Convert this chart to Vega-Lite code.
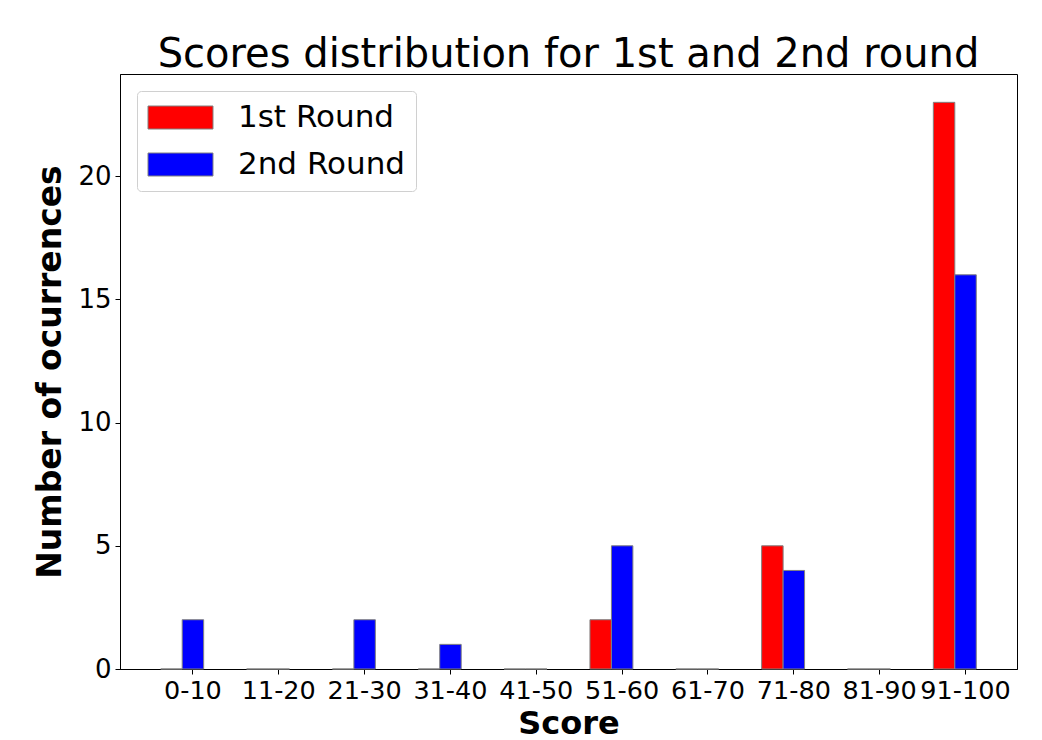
{
  "$schema": "https://vega.github.io/schema/vega-lite/v6.json",
  "autosize": {"type": "none"},
  "padding": {"left": 120, "top": 74, "right": 25, "bottom": 71},
  "width": 897,
  "height": 595,
  "background": "white",
  "title": {
    "text": "Scores distribution for 1st and 2nd round",
    "font": "DejaVu Sans",
    "fontSize": 40,
    "fontWeight": "normal",
    "color": "black",
    "anchor": "middle",
    "baseline": "alphabetic",
    "offset": 8,
    "dy": 41
  },
  "data": {
    "values": [
      {"score": "0-10", "round": "1st Round", "count": 0},
      {"score": "0-10", "round": "2nd Round", "count": 2},
      {"score": "11-20", "round": "1st Round", "count": 0},
      {"score": "11-20", "round": "2nd Round", "count": 0},
      {"score": "21-30", "round": "1st Round", "count": 0},
      {"score": "21-30", "round": "2nd Round", "count": 2},
      {"score": "31-40", "round": "1st Round", "count": 0},
      {"score": "31-40", "round": "2nd Round", "count": 1},
      {"score": "41-50", "round": "1st Round", "count": 0},
      {"score": "41-50", "round": "2nd Round", "count": 0},
      {"score": "51-60", "round": "1st Round", "count": 2},
      {"score": "51-60", "round": "2nd Round", "count": 5},
      {"score": "61-70", "round": "1st Round", "count": 0},
      {"score": "61-70", "round": "2nd Round", "count": 0},
      {"score": "71-80", "round": "1st Round", "count": 5},
      {"score": "71-80", "round": "2nd Round", "count": 4},
      {"score": "81-90", "round": "1st Round", "count": 0},
      {"score": "81-90", "round": "2nd Round", "count": 0},
      {"score": "91-100", "round": "1st Round", "count": 23},
      {"score": "91-100", "round": "2nd Round", "count": 16}
    ]
  },
  "mark": {"type": "bar", "stroke": "gray", "strokeWidth": 1, "opacity": 1},
  "encoding": {
    "x": {
      "field": "score",
      "type": "nominal",
      "sort": ["0-10", "11-20", "21-30", "31-40", "41-50", "51-60", "61-70", "71-80", "81-90", "91-100"],
      "scale": {"paddingInner": 0.5, "paddingOuter": 0.4745},
      "axis": {
        "title": "Score",
        "bandPosition": 0.75,
        "labelOffset": 10.7,
        "labelAngle": 0,
        "labelOverlap": false,
        "labelFont": "DejaVu Sans",
        "labelFontSize": 25.5,
        "labelColor": "black",
        "labelPadding": 4,
        "tickSize": 5,
        "tickColor": "black",
        "domainColor": "black",
        "grid": false,
        "titleFont": "DejaVu Sans",
        "titleFontSize": 32,
        "titleFontWeight": "bold",
        "titleColor": "black",
        "titlePadding": 5
      }
    },
    "xOffset": {
      "field": "round",
      "type": "nominal",
      "scale": {"paddingInner": 0, "paddingOuter": 0}
    },
    "y": {
      "field": "count",
      "type": "quantitative",
      "scale": {"domain": [0, 24.15], "nice": false, "zero": true},
      "axis": {
        "title": "Number of ocurrences",
        "values": [0, 5, 10, 15, 20],
        "labelFont": "DejaVu Sans",
        "labelFontSize": 26,
        "labelColor": "black",
        "labelPadding": 4,
        "tickSize": 5,
        "tickColor": "black",
        "domainColor": "black",
        "grid": false,
        "titleFont": "DejaVu Sans",
        "titleFontSize": 33,
        "titleFontWeight": "bold",
        "titleColor": "black",
        "titlePadding": 10
      }
    },
    "color": {
      "field": "round",
      "type": "nominal",
      "scale": {"domain": ["1st Round", "2nd Round"], "range": ["#ff0000", "#0000ff"]},
      "legend": {
        "title": null,
        "orient": "none",
        "legendX": 17,
        "legendY": 17,
        "padding": 11,
        "fillColor": "white",
        "strokeColor": "#d0d0d0",
        "cornerRadius": 4,
        "labelFont": "DejaVu Sans",
        "labelFontSize": 31,
        "labelColor": "black",
        "labelLimit": 400,
        "labelOffset": 42,
        "symbolType": "M-2.826,-1H2.826V1H-2.826Z",
        "symbolSize": 529,
        "symbolOffset": 17,
        "symbolStrokeColor": "gray",
        "symbolStrokeWidth": 1,
        "symbolOpacity": 1,
        "rowPadding": 15
      }
    }
  },
  "config": {
    "view": {"stroke": "black", "strokeWidth": 1}
  }
}
